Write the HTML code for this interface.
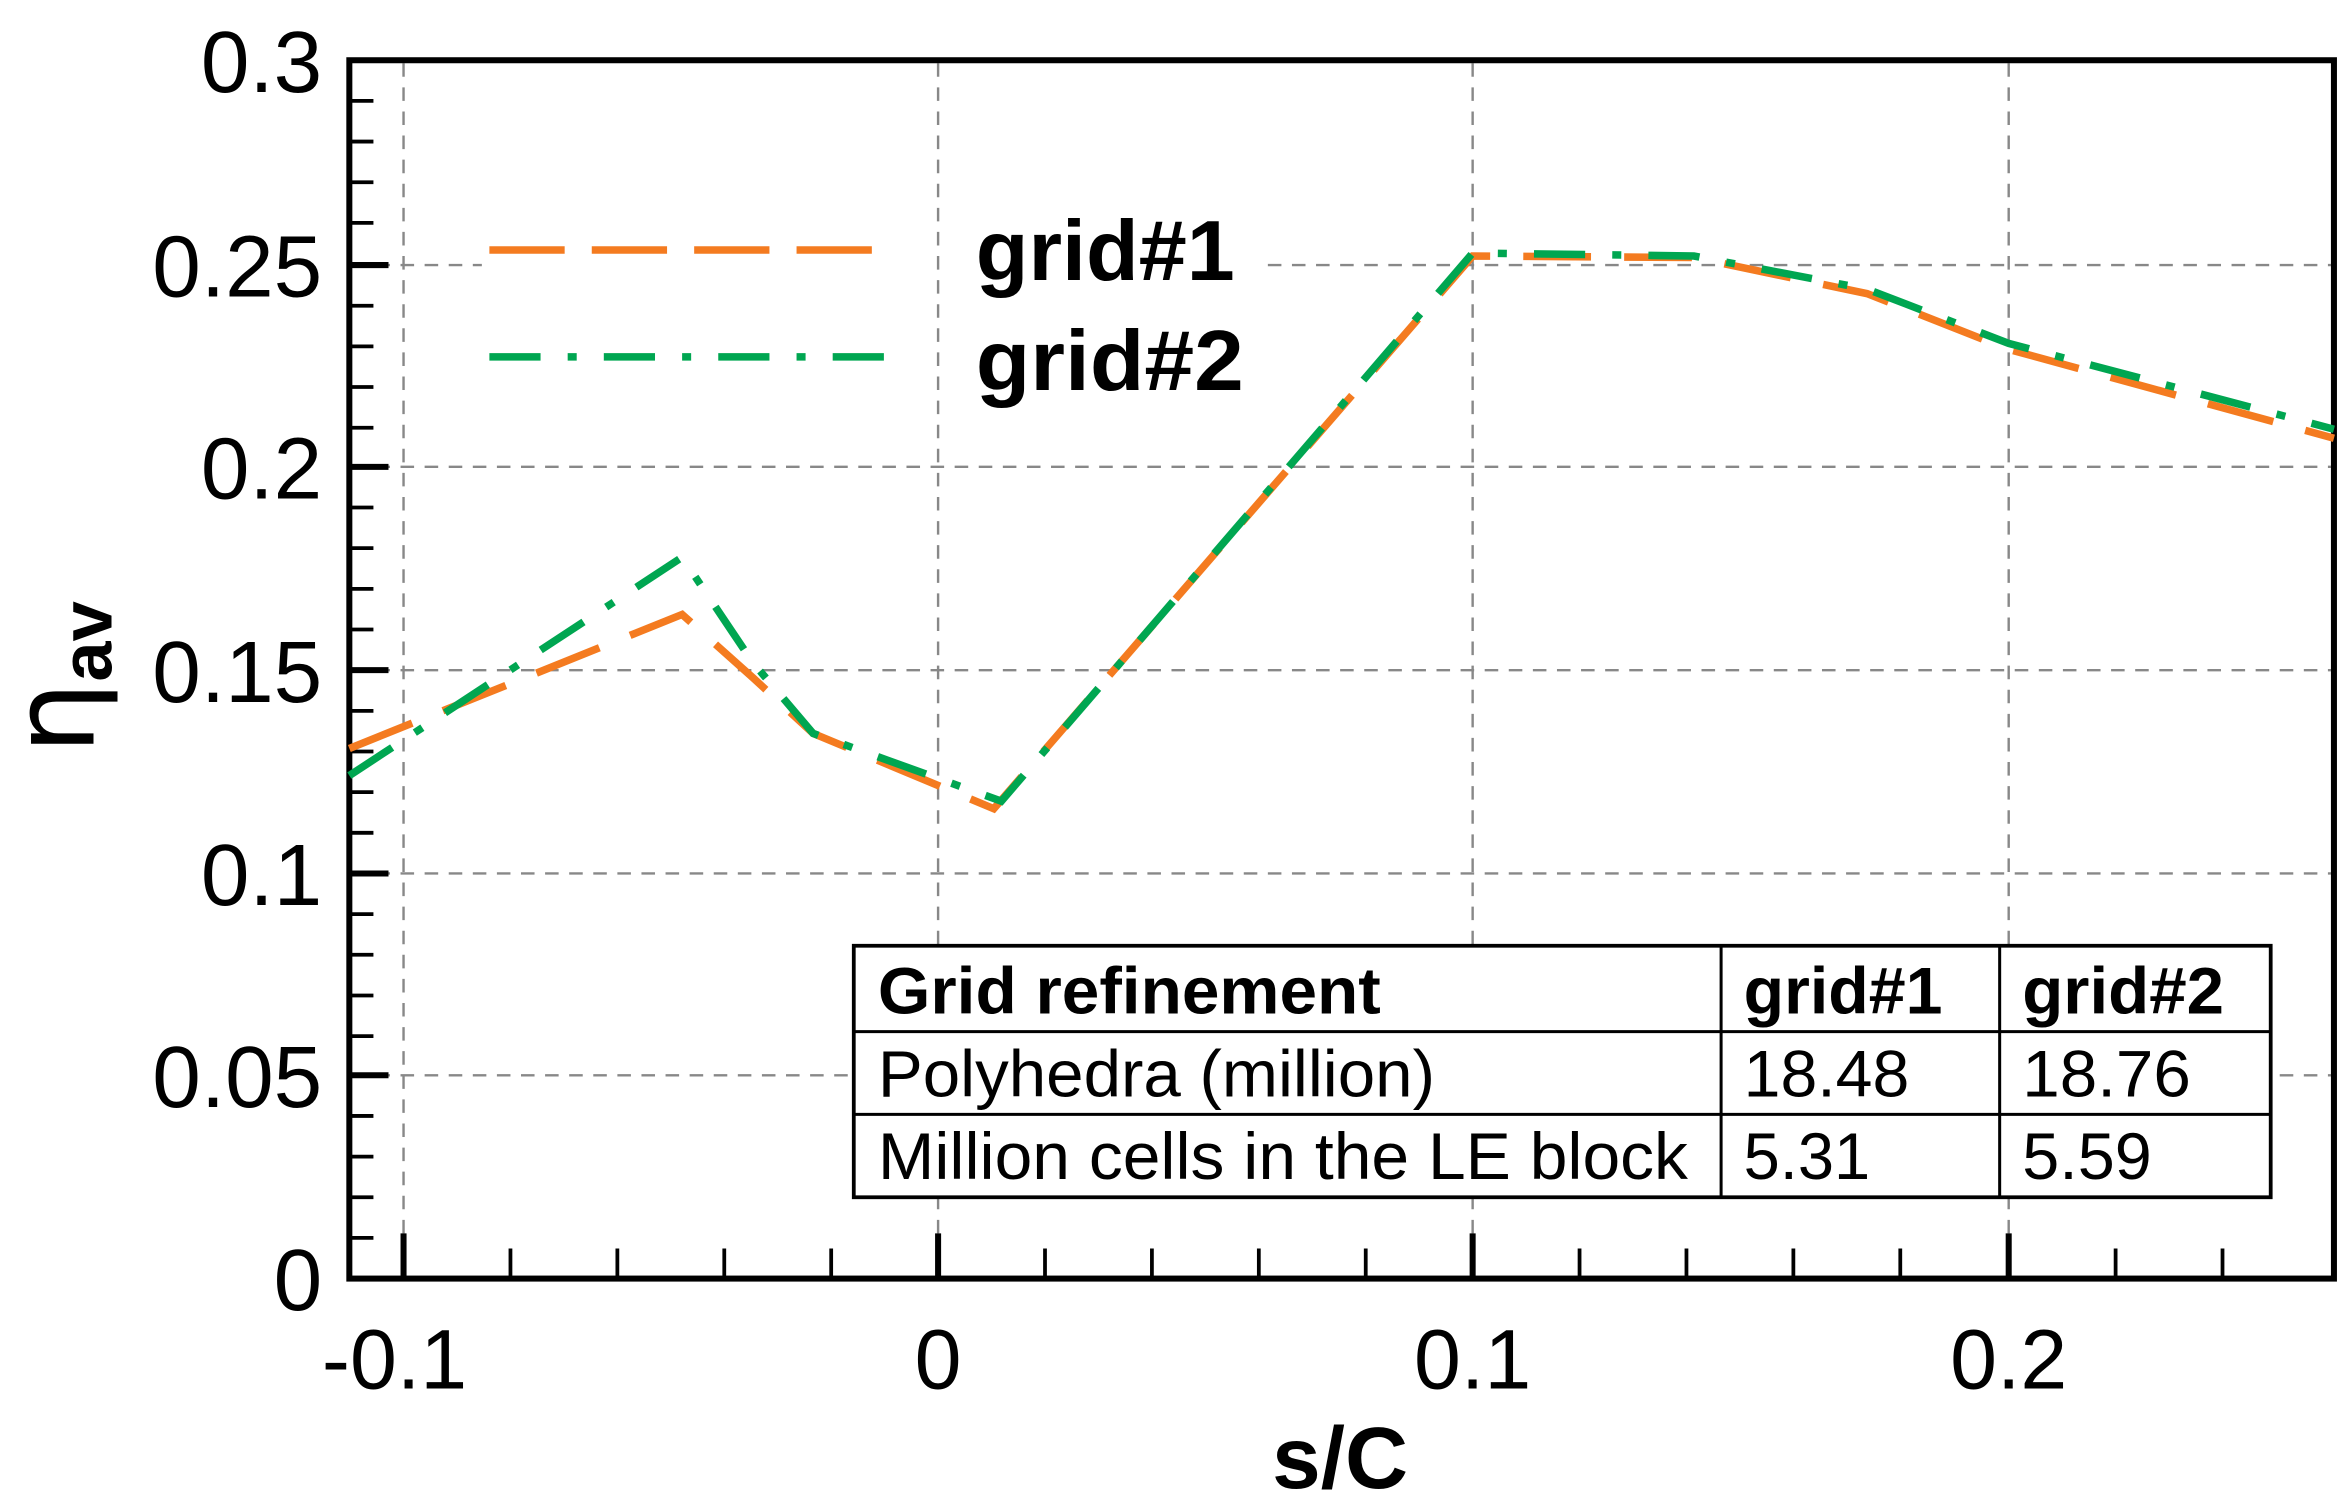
<!DOCTYPE html>
<html><head><meta charset="utf-8"><style>html,body{margin:0;padding:0;background:#fff}svg{display:block}</style></head>
<body>
<svg width="2349" height="1509" viewBox="0 0 1560 1002" preserveAspectRatio="none" xmlns="http://www.w3.org/2000/svg" font-family="Liberation Sans, Arial, sans-serif">
<rect width="1560" height="1002" fill="#fff"/>
<g stroke="#888" stroke-width="1.6" stroke-dasharray="9,7" fill="none">
<line x1="268" y1="42" x2="268" y2="847"/>
<line x1="978" y1="42" x2="978" y2="847"/>
<line x1="1334" y1="42" x2="1334" y2="847"/>
<line x1="234" y1="176" x2="1548" y2="176"/>
<line x1="234" y1="310" x2="1548" y2="310"/>
<line x1="234" y1="445" x2="1548" y2="445"/>
<line x1="234" y1="580" x2="1548" y2="580"/>
<line x1="234" y1="714" x2="1548" y2="714"/>
</g>
<rect x="320" y="120" width="520" height="160" fill="#fff"/>
<line x1="623" y1="42" x2="623" y2="847" stroke="#888" stroke-width="1.6" stroke-dasharray="9,7"/>
<g stroke="#000" stroke-width="2.5">
<path d="M232 67h16M232 94h16M232 121h16M232 148h16M232 203h16M232 230h16M232 257h16M232 284h16M232 337h16M232 364h16M232 391h16M232 418h16M232 472h16M232 499h16M232 526h16M232 553h16M232 607h16M232 634h16M232 661h16M232 688h16M232 741h16M232 768h16M232 795h16M232 822h16"/>
<path d="M232 176h26M232 310h26M232 445h26M232 580h26M232 714h26" stroke-width="4"/>
<path d="M339 849v-20M410 849v-20M481 849v-20M552 849v-20M694 849v-20M765 849v-20M836 849v-20M907 849v-20M1049 849v-20M1120 849v-20M1191 849v-20M1262 849v-20M1405 849v-20M1476 849v-20"/>
<path d="M268 849v-30M623 849v-30M978 849v-30M1334 849v-30" stroke-width="4"/>
</g>
<rect x="232" y="40" width="1318" height="809" fill="none" stroke="#000" stroke-width="4"/>
<g fill="none" stroke-width="5">
<polyline stroke="#f47b20" stroke-dasharray="45,22" points="232,497 453,408 500,450 540,487 660,537 978,170 1125,171 1240,195 1334,232 1550,291"/>
<polyline stroke="#00a651" stroke-dasharray="34,18,6,18" points="232,515 453,370 500,440 540,487 665,532 978,168 1125,170 1240,192 1334,228 1550,285"/>
<line x1="325" y1="166" x2="590" y2="166" stroke="#f47b20" stroke-dasharray="50,18"/>
<line x1="325" y1="237" x2="590" y2="237" stroke="#00a651" stroke-dasharray="34,18,6,18"/>
</g>
<g font-weight="bold" font-size="57" fill="#000">
<text x="648" y="186" textLength="172" lengthAdjust="spacingAndGlyphs">grid#1</text>
<text x="648" y="259" textLength="178" lengthAdjust="spacingAndGlyphs">grid#2</text>
</g>
<rect x="567" y="628" width="941" height="167" fill="#fff" stroke="#000" stroke-width="2.5"/>
<g stroke="#000" stroke-width="2">
<line x1="567" y1="685" x2="1508" y2="685"/>
<line x1="567" y1="740" x2="1508" y2="740"/>
<line x1="1143" y1="628" x2="1143" y2="795"/>
<line x1="1328" y1="628" x2="1328" y2="795"/>
</g>
<g font-size="44" fill="#000">
<text x="583" y="673" font-weight="bold" textLength="334" lengthAdjust="spacingAndGlyphs">Grid refinement</text>
<text x="1158" y="673" font-weight="bold" textLength="132" lengthAdjust="spacingAndGlyphs">grid#1</text>
<text x="1343" y="673" font-weight="bold" textLength="134" lengthAdjust="spacingAndGlyphs">grid#2</text>
<text x="583" y="728" textLength="370" lengthAdjust="spacingAndGlyphs">Polyhedra (million)</text>
<text x="1158" y="728" textLength="110" lengthAdjust="spacingAndGlyphs">18.48</text>
<text x="1343" y="728" textLength="112" lengthAdjust="spacingAndGlyphs">18.76</text>
<text x="583" y="783" textLength="538" lengthAdjust="spacingAndGlyphs">Million cells in the LE block</text>
<text x="1158" y="783" textLength="84" lengthAdjust="spacingAndGlyphs">5.31</text>
<text x="1343" y="783" textLength="86" lengthAdjust="spacingAndGlyphs">5.59</text>
</g>
<g font-size="58" fill="#000" text-anchor="end">
<text x="214" y="61">0.3</text>
<text x="214" y="197">0.25</text>
<text x="214" y="331">0.2</text>
<text x="214" y="466">0.15</text>
<text x="214" y="601">0.1</text>
<text x="214" y="735">0.05</text>
<text x="214" y="870">0</text>
</g>
<g font-size="56" fill="#000" text-anchor="middle">
<text x="262" y="922">-0.1</text>
<text x="623" y="922">0</text>
<text x="978" y="922">0.1</text>
<text x="1334" y="922">0.2</text>
</g>
<text x="890" y="988" font-size="58" font-weight="bold" text-anchor="middle">s/C</text>
<g transform="translate(62,450) rotate(-90)">
<text x="0" y="0" font-size="76" text-anchor="middle" font-family="DejaVu Sans, sans-serif">η<tspan font-size="48" font-weight="bold" font-family="Liberation Sans, sans-serif" dy="12">av</tspan></text>
</g>
</svg>
</body></html>
